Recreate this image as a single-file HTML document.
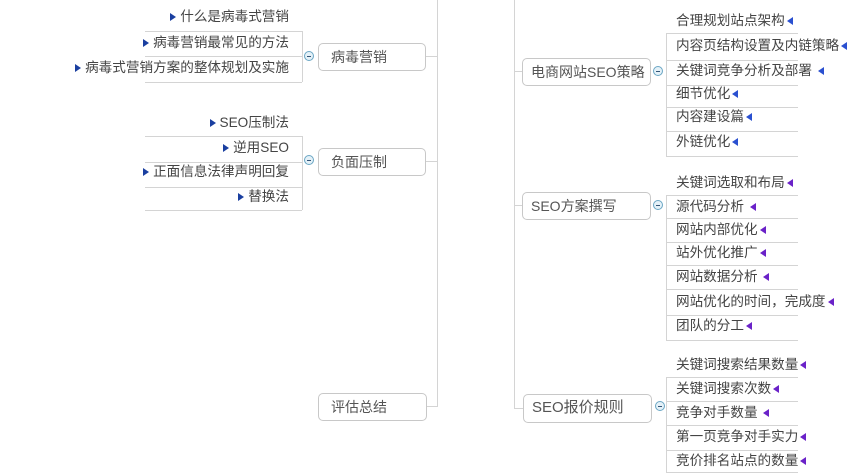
<!DOCTYPE html>
<html><head><meta charset="utf-8"><style>
body{margin:0;width:850px;height:475px;overflow:hidden;background:#fff;position:relative;font-family:"Liberation Sans","Noto Sans CJK SC",sans-serif;color:#444}
.l{position:absolute;background:#d4d4d4}
.box{position:absolute;border:1px solid #c8c8c8;border-radius:5px;background:#fff;font-size:14px;color:#555;box-sizing:border-box;line-height:26px;padding-left:12px}
.c{position:absolute;width:10px;height:10px;border:1px solid #6aa6c4;border-radius:50%;background:#e4f1f8;box-sizing:border-box}
.c:after{content:"";position:absolute;left:2px;top:3.5px;width:4px;height:1px;background:#357}
.t{position:absolute;font-size:13.6px;line-height:16px;white-space:nowrap;color:#444}
.tr{text-align:right}
.tri{display:inline-block;width:0;height:0;border-top:4px solid transparent;border-bottom:4px solid transparent;vertical-align:0}
.rb{border-left:6px solid #1a3fa0;margin-right:4px}
.lb{border-right:6px solid #2a50d0;margin-left:2px}
.lp{border-right:6px solid #6a22c8;margin-left:2px}
</style></head><body>
<div class="l" style="left:437px;top:0;width:1px;height:407px"></div>
<div class="l" style="left:514px;top:0;width:1px;height:409px"></div>
<div class="l" style="left:426px;top:56px;width:11px;height:1px"></div>
<div class="l" style="left:426px;top:161px;width:11px;height:1px"></div>
<div class="l" style="left:426px;top:406px;width:11px;height:1px"></div>
<div class="l" style="left:514px;top:71px;width:8px;height:1px"></div>
<div class="l" style="left:514px;top:205px;width:8px;height:1px"></div>
<div class="l" style="left:514px;top:408px;width:9px;height:1px"></div>

<div class="box" style="left:318px;top:43px;width:108px;height:28px">病毒营销</div>
<div class="c" style="left:304px;top:51px"></div>
<div class="l" style="left:302px;top:31px;width:1px;height:51px"></div>
<div class="l" style="left:145px;top:31px;width:157px;height:1px"></div>
<div class="l" style="left:145px;top:56px;width:157px;height:1px"></div>
<div class="l" style="left:145px;top:82px;width:157px;height:1px"></div>
<div class="t tr" style="right:561px;top:9px"><span class="tri rb"></span>什么是病毒式营销</div>
<div class="t tr" style="right:561px;top:35px"><span class="tri rb"></span>病毒营销最常见的方法</div>
<div class="t tr" style="right:561px;top:60px"><span class="tri rb"></span>病毒式营销方案的整体规划及实施</div>

<div class="box" style="left:318px;top:148px;width:108px;height:28px">负面压制</div>
<div class="c" style="left:304px;top:155px"></div>
<div class="l" style="left:302px;top:136px;width:1px;height:74px"></div>
<div class="l" style="left:145px;top:136px;width:157px;height:1px"></div>
<div class="l" style="left:145px;top:162px;width:157px;height:1px"></div>
<div class="l" style="left:145px;top:187px;width:157px;height:1px"></div>
<div class="l" style="left:145px;top:210px;width:157px;height:1px"></div>
<div class="t tr" style="right:561px;top:115px"><span class="tri rb"></span>SEO压制法</div>
<div class="t tr" style="right:561px;top:140px"><span class="tri rb"></span>逆用SEO</div>
<div class="t tr" style="right:561px;top:164px"><span class="tri rb"></span>正面信息法律声明回复</div>
<div class="t tr" style="right:561px;top:189px"><span class="tri rb"></span>替换法</div>

<div class="box" style="left:318px;top:393px;width:109px;height:28px">评估总结</div>

<div class="box" style="left:522px;top:58px;width:129px;height:28px;padding-left:8px">电商网站SEO策略</div>
<div class="c" style="left:653px;top:66px"></div>
<div class="l" style="left:666px;top:33px;width:1px;height:123px"></div>
<div class="l" style="left:666px;top:33px;width:132px;height:1px"></div>
<div class="l" style="left:666px;top:60px;width:132px;height:1px"></div>
<div class="l" style="left:666px;top:85px;width:132px;height:1px"></div>
<div class="l" style="left:666px;top:107px;width:132px;height:1px"></div>
<div class="l" style="left:666px;top:131px;width:132px;height:1px"></div>
<div class="l" style="left:666px;top:156px;width:132px;height:1px"></div>
<div class="t" style="left:676px;top:13px">合理规划站点架构<span class="tri lb"></span></div>
<div class="t" style="left:676px;top:38px">内容页结构设置及内链策略<span class="tri lb"></span></div>
<div class="t" style="left:676px;top:63px">关键词竞争分析及部署 <span class="tri lb"></span></div>
<div class="t" style="left:676px;top:86px">细节优化<span class="tri lb"></span></div>
<div class="t" style="left:676px;top:109px">内容建设篇<span class="tri lb"></span></div>
<div class="t" style="left:676px;top:134px">外链优化<span class="tri lb"></span></div>

<div class="box" style="left:522px;top:192px;width:129px;height:28px;padding-left:8px">SEO方案撰写</div>
<div class="c" style="left:653px;top:200px"></div>
<div class="l" style="left:666px;top:195px;width:1px;height:145px"></div>
<div class="l" style="left:666px;top:195px;width:132px;height:1px"></div>
<div class="l" style="left:666px;top:218px;width:132px;height:1px"></div>
<div class="l" style="left:666px;top:242px;width:132px;height:1px"></div>
<div class="l" style="left:666px;top:265px;width:132px;height:1px"></div>
<div class="l" style="left:666px;top:289px;width:132px;height:1px"></div>
<div class="l" style="left:666px;top:315px;width:132px;height:1px"></div>
<div class="l" style="left:666px;top:340px;width:132px;height:1px"></div>
<div class="t" style="left:676px;top:175px">关键词选取和布局<span class="tri lp"></span></div>
<div class="t" style="left:676px;top:199px">源代码分析 <span class="tri lp"></span></div>
<div class="t" style="left:676px;top:222px">网站内部优化<span class="tri lp"></span></div>
<div class="t" style="left:676px;top:245px">站外优化推广<span class="tri lp"></span></div>
<div class="t" style="left:676px;top:269px">网站数据分析 <span class="tri lp"></span></div>
<div class="t" style="left:676px;top:294px">网站优化的时间，完成度<span class="tri lp"></span></div>
<div class="t" style="left:676px;top:318px">团队的分工<span class="tri lp"></span></div>

<div class="box" style="left:523px;top:394px;width:129px;height:29px;padding-left:8px;font-size:15px">SEO报价规则</div>
<div class="c" style="left:655px;top:401px"></div>
<div class="l" style="left:666px;top:377px;width:1px;height:96px"></div>
<div class="l" style="left:666px;top:377px;width:132px;height:1px"></div>
<div class="l" style="left:666px;top:401px;width:132px;height:1px"></div>
<div class="l" style="left:666px;top:425px;width:132px;height:1px"></div>
<div class="l" style="left:666px;top:450px;width:132px;height:1px"></div>
<div class="l" style="left:666px;top:472px;width:132px;height:1px"></div>
<div class="t" style="left:676px;top:357px">关键词搜索结果数量<span class="tri lp"></span></div>
<div class="t" style="left:676px;top:381px">关键词搜索次数<span class="tri lp"></span></div>
<div class="t" style="left:676px;top:405px">竞争对手数量 <span class="tri lp"></span></div>
<div class="t" style="left:676px;top:429px">第一页竞争对手实力<span class="tri lp"></span></div>
<div class="t" style="left:676px;top:453px">竞价排名站点的数量<span class="tri lp"></span></div>
</body></html>
